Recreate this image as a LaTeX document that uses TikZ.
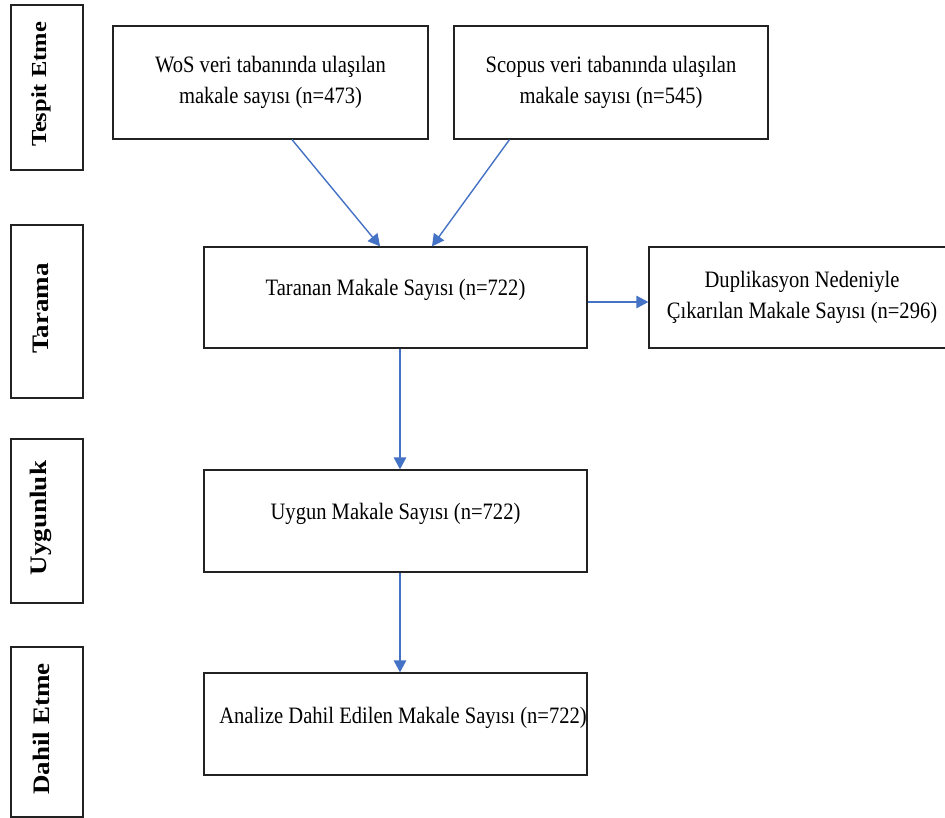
\documentclass[tikz,border=0pt]{standalone}
\usepackage{fontspec}
\setmainfont{Liberation Serif}[FakeStretch=0.875]
\newfontfamily\stagefont{Liberation Serif}
\usetikzlibrary{arrows.meta,calc}
\definecolor{arrowblue}{HTML}{4472C4}
\definecolor{boxline}{HTML}{222222}
\begin{document}
\begin{tikzpicture}[x=1pt,y=-1pt,
  box/.style={draw=boxline, line width=1.3pt, rectangle, inner sep=0pt, align=center,
    font=\fontsize{23.5}{31.5}\selectfont},
  stagebox/.style={draw=boxline, line width=1.3pt, rectangle, inner sep=0pt, minimum width=72pt},
  stagetext/.style={rotate=90, font=\stagefont\bfseries\fontsize{27}{30}\selectfont, inner sep=0pt},
  oneline/.style={text height=15pt, text depth=18pt},
  flow/.style={draw=arrowblue, line width=1.4pt, -{Triangle[length=12pt,width=12.5pt]}}]
\path[use as bounding box] (0,0) rectangle (945,818);
\clip (0,0) rectangle (945,818);
% stage boxes
\node[stagebox, minimum height=165pt] (s1) at (47,87.5) {};
\node[stagetext, font=\stagefont\bfseries\fontsize{24.5}{28}\selectfont] (t1) at ([xshift=-6pt,yshift=3pt]s1.center) {\scalebox{1}[0.875]{Tespit Etme}};
\node[stagebox, minimum height=173pt] (s2) at (47,311.5) {};
\node[stagetext] (t2) at ([xshift=-6pt,yshift=3pt]s2.center) {\scalebox{1}[0.875]{Tarama}};
\node[stagebox, minimum height=164pt] (s3) at (47,521) {};
\node[stagetext] (t3) at ([xshift=-6pt,yshift=3pt]s3.center) {\scalebox{1}[0.875]{Uygunluk}};
\node[stagebox, minimum height=170pt] (s4) at (47,732) {};
\node[stagetext] (t4) at ([xshift=-6pt,yshift=3pt]s4.center) {\scalebox{1}[0.875]{Dahil Etme}};
% main boxes
\node[box, minimum width=315pt, minimum height=113pt] (wos) at (270.5,82.5)
  {WoS veri tabanında ulaşılan\\makale sayısı (n=473)};
\node[box, minimum width=314pt, minimum height=113pt] (sco) at (611,82.5)
  {Scopus veri tabanında ulaşılan\\makale sayısı (n=545)};
\node[box, oneline, minimum width=383pt, minimum height=101pt] (tar) at (395.5,297.5)
  {Taranan Makale Sayısı (n=722)};
\node[box, minimum width=306pt, minimum height=101pt] (dup) at (802,297.5)
  {Duplikasyon Nedeniyle\\Çıkarılan Makale Sayısı (n=296)};
\node[box, oneline, minimum width=383pt, minimum height=102pt] (uyg) at (395.5,521)
  {Uygun Makale Sayısı (n=722)};
\node[box, oneline, text depth=16pt, minimum width=383pt, minimum height=102pt] (ana) at (395.5,724)
  {\hspace*{15pt}Analize Dahil Edilen Makale Sayısı (n=722)};
% connectors
\draw[flow] ($(wos.south west)!0.568!(wos.south east)$) -- ($(tar.north west)!0.46!(tar.north east)$);
\draw[flow] ($(sco.south west)!0.178!(sco.south east)$) -- ($(tar.north west)!0.595!(tar.north east)$);
\draw[flow] ([yshift=-4.5pt]tar.east) -- ([yshift=-4.5pt]dup.west);
\draw[flow] ([xshift=4.5pt]tar.south) -- ([xshift=4.5pt]uyg.north);
\draw[flow] ([xshift=4.5pt]uyg.south) -- ([xshift=4.5pt]ana.north);
\end{tikzpicture}
\end{document}
